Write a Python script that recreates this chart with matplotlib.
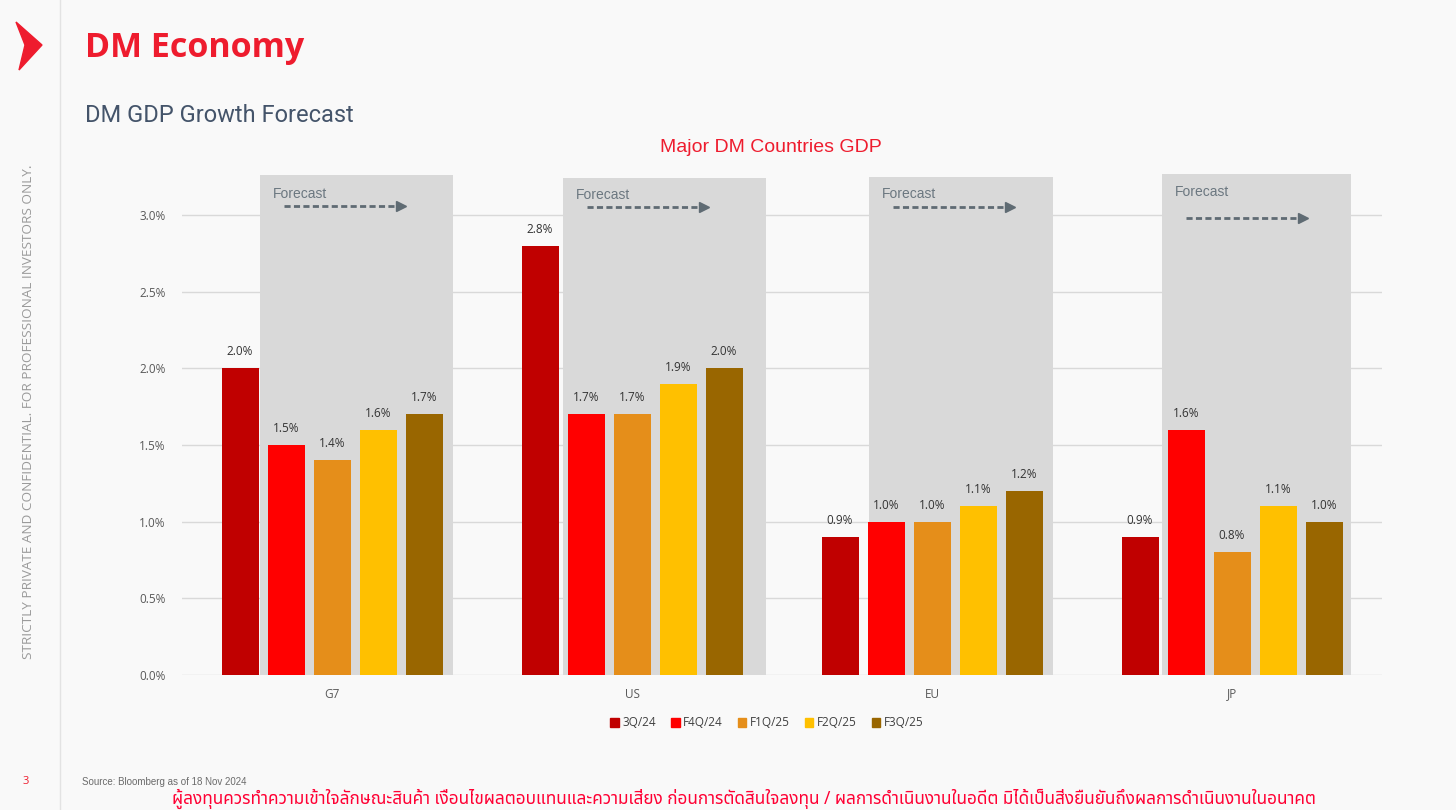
import matplotlib
matplotlib.use('Agg')
import matplotlib.pyplot as plt
import numpy as np
from matplotlib.patches import Rectangle, Polygon
from matplotlib.lines import Line2D

# data
categories = ['G7', 'US', 'EU', 'JP']
series = ['3Q/24', 'F4Q/24', 'F1Q/25', 'F2Q/25', 'F3Q/25']
q3_24 = [2.0, 2.8, 0.9, 0.9]
f4q_24 = [1.5, 1.7, 1.0, 1.6]
f1q_25 = [1.4, 1.7, 1.0, 0.8]
f2q_25 = [1.6, 1.9, 1.1, 1.1]
f3q_25 = [1.7, 2.0, 1.2, 1.0]
values = [q3_24, f4q_24, f1q_25, f2q_25, f3q_25]
colors = ['#C00000', '#FF0000', '#E58E1A', '#FFC000', '#996600']

# forecast shading (slide shapes), in pixel tweaks per category
box_top = [3.26, 3.24, 3.25, 3.27]
box_lpad = [8, 5, -1, 6]
box_rpad = [10, 23, 10, 8]
arrow_y = [3.06, 3.05, 3.05, 2.98]
label_y = [3.14, 3.13, 3.14, 3.15]

W, H = 1456, 810
fig = plt.figure(figsize=(W / 100, H / 100), dpi=100)
fig.patch.set_facecolor('#F9F9F9')

ax_left, ax_right, ax_bottom, ax_top = 182, 1382, 675, 169
ax = fig.add_axes([ax_left / W, 1 - ax_bottom / H, (ax_right - ax_left) / W, (ax_bottom - ax_top) / H])
ax.set_facecolor('none')
ax.set_xlim(-0.5, len(categories) - 0.5)
ax.set_ylim(0, (ax_bottom - ax_top) / 153.33)

px_x = 1 / 300.0       # data units per pixel (x)
px_y = 1 / 153.33      # data units per pixel (y)

step = 46 * px_x
bw = 37 * px_x
x = np.arange(len(categories))

for i, (name, vals, c) in enumerate(zip(series, values, colors)):
    pos = x + (i - 2) * step
    ax.bar(pos, vals, width=bw, color=c, label=name, zorder=3)
    for px_, v in zip(pos, vals):
        ax.text(px_, v + 0.065, f'{v:.1f}%', ha='center', va='bottom',
                fontsize=8.5, color='#333333', family='Open Sans', zorder=4)

# forecast boxes
for k in range(len(categories)):
    left = x[k] - step - bw / 2 - box_lpad[k] * px_x
    right = x[k] + 2 * step + bw / 2 + box_rpad[k] * px_x
    ax.add_patch(Rectangle((left, 0), right - left, box_top[k], facecolor='#D9D9D9',
                           edgecolor='none', zorder=2, clip_on=False))
    ax.text(left + 13 * px_x, label_y[k], 'Forecast', fontsize=10, color='#6B7780',
            family='Liberation Sans', va='center', ha='left', zorder=4)
    x0 = left + 24 * px_x
    x1 = x0 + 114 * px_x
    ax.plot([x0, x1], [arrow_y[k]] * 2, ls=(0, (2.2, 1.2)), lw=2, color='#5F6B73',
            zorder=4, clip_on=False)
    ax.plot(x1 + 3 * px_x, arrow_y[k], marker='>', ms=6.5, color='#5F6B73', zorder=4,
            clip_on=False)

ax.set_yticks(np.arange(0, 3.01, 0.5))
ax.set_yticklabels([f'{t:.1f}%' for t in np.arange(0, 3.01, 0.5)])
ax.set_xticks(x)
ax.set_xticklabels(categories)
ax.tick_params(length=0, labelsize=8.5, colors='#595959')
for lab in ax.get_xticklabels() + ax.get_yticklabels():
    lab.set_family('Open Sans')
ax.tick_params(axis='y', pad=12)
ax.tick_params(axis='x', pad=9)
ax.grid(axis='y', color='#D9D9D9', lw=1, zorder=1)
ax.set_axisbelow(True)
for s in ax.spines.values():
    s.set_visible(False)

handles = [Rectangle((0, 0), 1, 1, color=c) for c in colors]
leg = fig.legend(handles, series, loc='center', bbox_to_anchor=(767 / W, 1 - 723 / H),
                 ncol=5, frameon=False, handlelength=0.7, handleheight=0.7,
                 handletextpad=0.3, columnspacing=1.3, prop={'family': 'Open Sans', 'size': 8.5})
for t in leg.get_texts():
    t.set_color('#404040')

# slide decorations
fig.add_artist(Line2D([60 / W, 60 / W], [0, 1], color='#E3E3E3', lw=1))
fig.add_artist(Polygon([(16 / W, 1 - 22 / H), (42 / W, 1 - 45 / H), (19 / W, 1 - 70 / H),
                        (25 / W, 1 - 45 / H)], closed=True, color='#EE1C2E'))
fig.text(85 / W, 1 - 48 / H, 'DM Economy', fontsize=24.5, fontweight='bold', color='#EE1C2E',
         family='Open Sans', va='center')
fig.text(85 / W, 1 - 116 / H, 'DM GDP Growth Forecast', fontsize=17, color='#44546A',
         family='Roboto', va='center')
fig.text(771 / W, 1 - 148 / H, 'Major DM Countries GDP', fontsize=14, color='#EE1C2E',
         family='Liberation Sans', ha='center', va='center')
fig.text(29 / W, 1 - 412 / H, 'STRICTLY PRIVATE AND CONFIDENTIAL. FOR PROFESSIONAL INVESTORS ONLY.',
         rotation=90, fontsize=9.7, color='#9A9A9A', family='Open Sans', ha='center', va='center')
fig.text(26 / W, 1 - 782 / H, '3', fontsize=8, color='#EE1C2E', family='Open Sans',
         ha='center', va='center')
fig.text(82 / W, 1 - 782 / H, 'Source: Bloomberg as of 18 Nov 2024', fontsize=7, color='#6B6B6B',
         family='Liberation Sans', va='center')
fig.text(744 / W, 1 - 799 / H,
         'ผู้ลงทุนควรทำความเข้าใจลักษณะสินค้า เงื่อนไขผลตอบแทนและความเสี่ยง ก่อนการตัดสินใจลงทุน / '
         'ผลการดำเนินงานในอดีต มิได้เป็นสิ่งยืนยันถึงผลการดำเนินงานในอนาคต',
         fontsize=12.4, color='#FF0033', ha='center', va='center',
         family=['Noto Sans Thai', 'Loma', 'Garuda', 'Tlwg Typo', 'DejaVu Sans'])

fig.savefig('out.png', dpi=100, facecolor=fig.get_facecolor())
